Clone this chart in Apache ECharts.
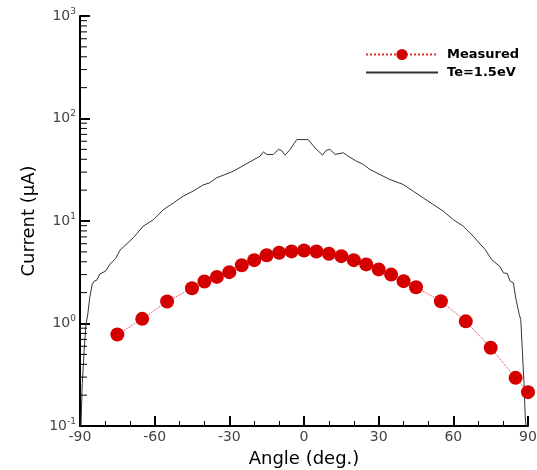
<!DOCTYPE html>
<html>
<head>
<meta charset="utf-8">
<script src="https://cdn.jsdelivr.net/npm/echarts@6/dist/echarts.min.js"></script>
<style>
  html, body { margin: 0; padding: 0; background: #fff; }
  #chart { width: 537px; height: 470px; }
</style>
</head>
<body>
<div id="chart"></div>
<script>
// measured points
var measuredAngle = [-75, -65, -55, -45, -40, -35, -30, -25, -20, -15, -10, -5, 0, 5, 10, 15, 20, 25, 30, 35, 40, 45, 55, 65, 75, 85, 90];
var measuredCurrent = [0.78, 1.11, 1.64, 2.21, 2.57, 2.85, 3.17, 3.7, 4.15, 4.64, 4.9, 5.05, 5.15, 5.04, 4.79, 4.54, 4.15, 3.77, 3.37, 3.0, 2.59, 2.26, 1.65, 1.05, 0.58, 0.295, 0.214];

// simulated curve Te=1.5eV
var simAngle = [-89.6, -89.1, -88.3, -87.6, -86.9, -86.0, -85.1, -84.3, -83.3, -82.0, -79.7, -77.9, -75.7, -73.9,
  -68.6, -64.6, -60.5, -56.5, -52.5, -48.5, -44.5, -40.5, -38.0, -35.1, -28.4, -21.7, -17.7, -16.3, -15.0,
  -12.3, -10.3, -9.0, -7.6, -5.6, -2.9, 1.7, 4.4, 7.5, 8.8, 10.4, 12.5, 15.8, 17.8, 21.2, 23.8, 26.5,
  30.5, 34.5, 39.9, 43.9, 47.9, 51.9, 55.9, 60.0, 64.0, 68.0, 70.4, 72.7, 75.4, 78.7, 80.1, 81.7, 82.8,
  84.1, 85.2, 86.5, 87.1, 87.7, 88.4, 88.9, 89.2];
var simCurrent = [0.1, 0.26, 0.56, 0.98, 1.22, 1.85, 2.4, 2.59, 2.64, 3.05, 3.24, 3.8, 4.3, 5.2,
  6.86, 8.9, 10.3, 12.9, 15.0, 17.5, 19.6, 22.5, 23.5, 26.4, 30.6, 37.8, 42.8, 47.3, 44.6,
  44.6, 49.9, 48.8, 43.9, 49.9, 62.3, 62.3, 51.7, 43.9, 48.8, 49.9, 44.6, 46.3, 42.8, 38.2, 35.7, 31.8,
  28.4, 25.4, 22.7, 19.5, 16.8, 14.5, 12.5, 10.3, 8.9, 7.1, 6.1, 5.3, 4.2, 3.6, 3.12, 3.07, 2.59,
  2.49, 1.71, 1.22, 1.09, 0.56, 0.26, 0.12, 0.1];

// minor ticks of the log axis: 2..9 in every decade
var minorTickValues = [];
[0.1, 1, 10, 100].forEach(function (d) {
  for (var k = 2; k <= 9; k++) minorTickValues.push(+(k * d).toPrecision(3));
});

function zip(a, b) {
  return a.map(function (v, i) { return [v, b[i]]; });
}

var font = 'DejaVu Sans';
var chart = echarts.init(document.getElementById('chart'));

chart.setOption({
  animation: false,
  grid: { left: 80, right: 9, top: 16, bottom: 44, outerBoundsMode: 'none' },
  legend: {
    orient: 'vertical',
    left: 360,
    top: 43,
    itemWidth: 72,
    itemHeight: 14,
    itemGap: 5,
    data: [
      { name: 'Measured' },
      { name: 'Te=1.5eV', itemStyle: { opacity: 0 } }
    ],
    textStyle: { fontFamily: font, fontSize: 13, fontWeight: 'bold', color: '#000', padding: [0, 0, 0, 4] }
  },
  xAxis: {
    type: 'value',
    min: -90,
    max: 90,
    interval: 30,
    name: 'Angle (deg.)',
    nameLocation: 'middle',
    nameGap: 24,
    nameTextStyle: { fontFamily: font, fontSize: 18, color: '#000' },
    axisLine: { onZero: false, lineStyle: { color: '#000', width: 2 } },
    axisTick: { inside: true, length: 10, lineStyle: { color: '#000', width: 2 } },
    minorTick: { show: true, splitNumber: 3, length: 5, lineStyle: { color: '#000', width: 1 } },
    splitLine: { show: false },
    axisLabel: { fontFamily: font, fontSize: 14, color: '#444', margin: 4 }
  },
  yAxis: {
    type: 'log',
    logBase: 10,
    min: 0.1,
    max: 1000,
    name: 'Current (\u03bcA)',
    nameLocation: 'middle',
    nameGap: 38,
    nameTextStyle: { fontFamily: font, fontSize: 18, color: '#000' },
    axisLine: { show: true, onZero: false, lineStyle: { color: '#000', width: 2 } },
    axisTick: { inside: true, length: 10, lineStyle: { color: '#000', width: 2 } },
    splitLine: { show: false },
    axisLabel: {
      margin: 4,
      formatter: function (v) {
        var e = Math.round(Math.log10(v));
        return '{b|10}{s|' + e + '}';
      },
      rich: {
        b: { fontFamily: font, fontSize: 14, color: '#444' },
        s: { fontFamily: font, fontSize: 9, color: '#444', padding: [0, 0, 9, 0] }
      }
    }
  },
  series: [
    {
      name: 'Te=1.5eV',
      type: 'line',
      data: zip(simAngle, simCurrent),
      symbol: 'none',
      lineStyle: { color: '#333', width: 1 },
      itemStyle: { color: '#333' },
      z: 2
    },
    {
      name: 'Measured',
      type: 'line',
      data: zip(measuredAngle, measuredCurrent),
      symbol: 'circle',
      symbolSize: 14,
      clip: false,
      itemStyle: { color: '#d40000' },
      lineStyle: { color: '#e03030', width: 1, type: 'dotted' },
      z: 3
    },
    {
      // minor ticks drawn against the y scale
      type: 'custom',
      silent: true,
      data: minorTickValues.map(function (v) { return [-90, v]; }),
      renderItem: function (params, api) {
        var p = api.coord([api.value(0), api.value(1)]);
        return {
          type: 'line',
          shape: { x1: p[0], y1: p[1], x2: p[0] + 7, y2: p[1] },
          style: { stroke: '#000', lineWidth: 1 }
        };
      },
      z: 4
    }
  ]
});
</script>
</body>
</html>
